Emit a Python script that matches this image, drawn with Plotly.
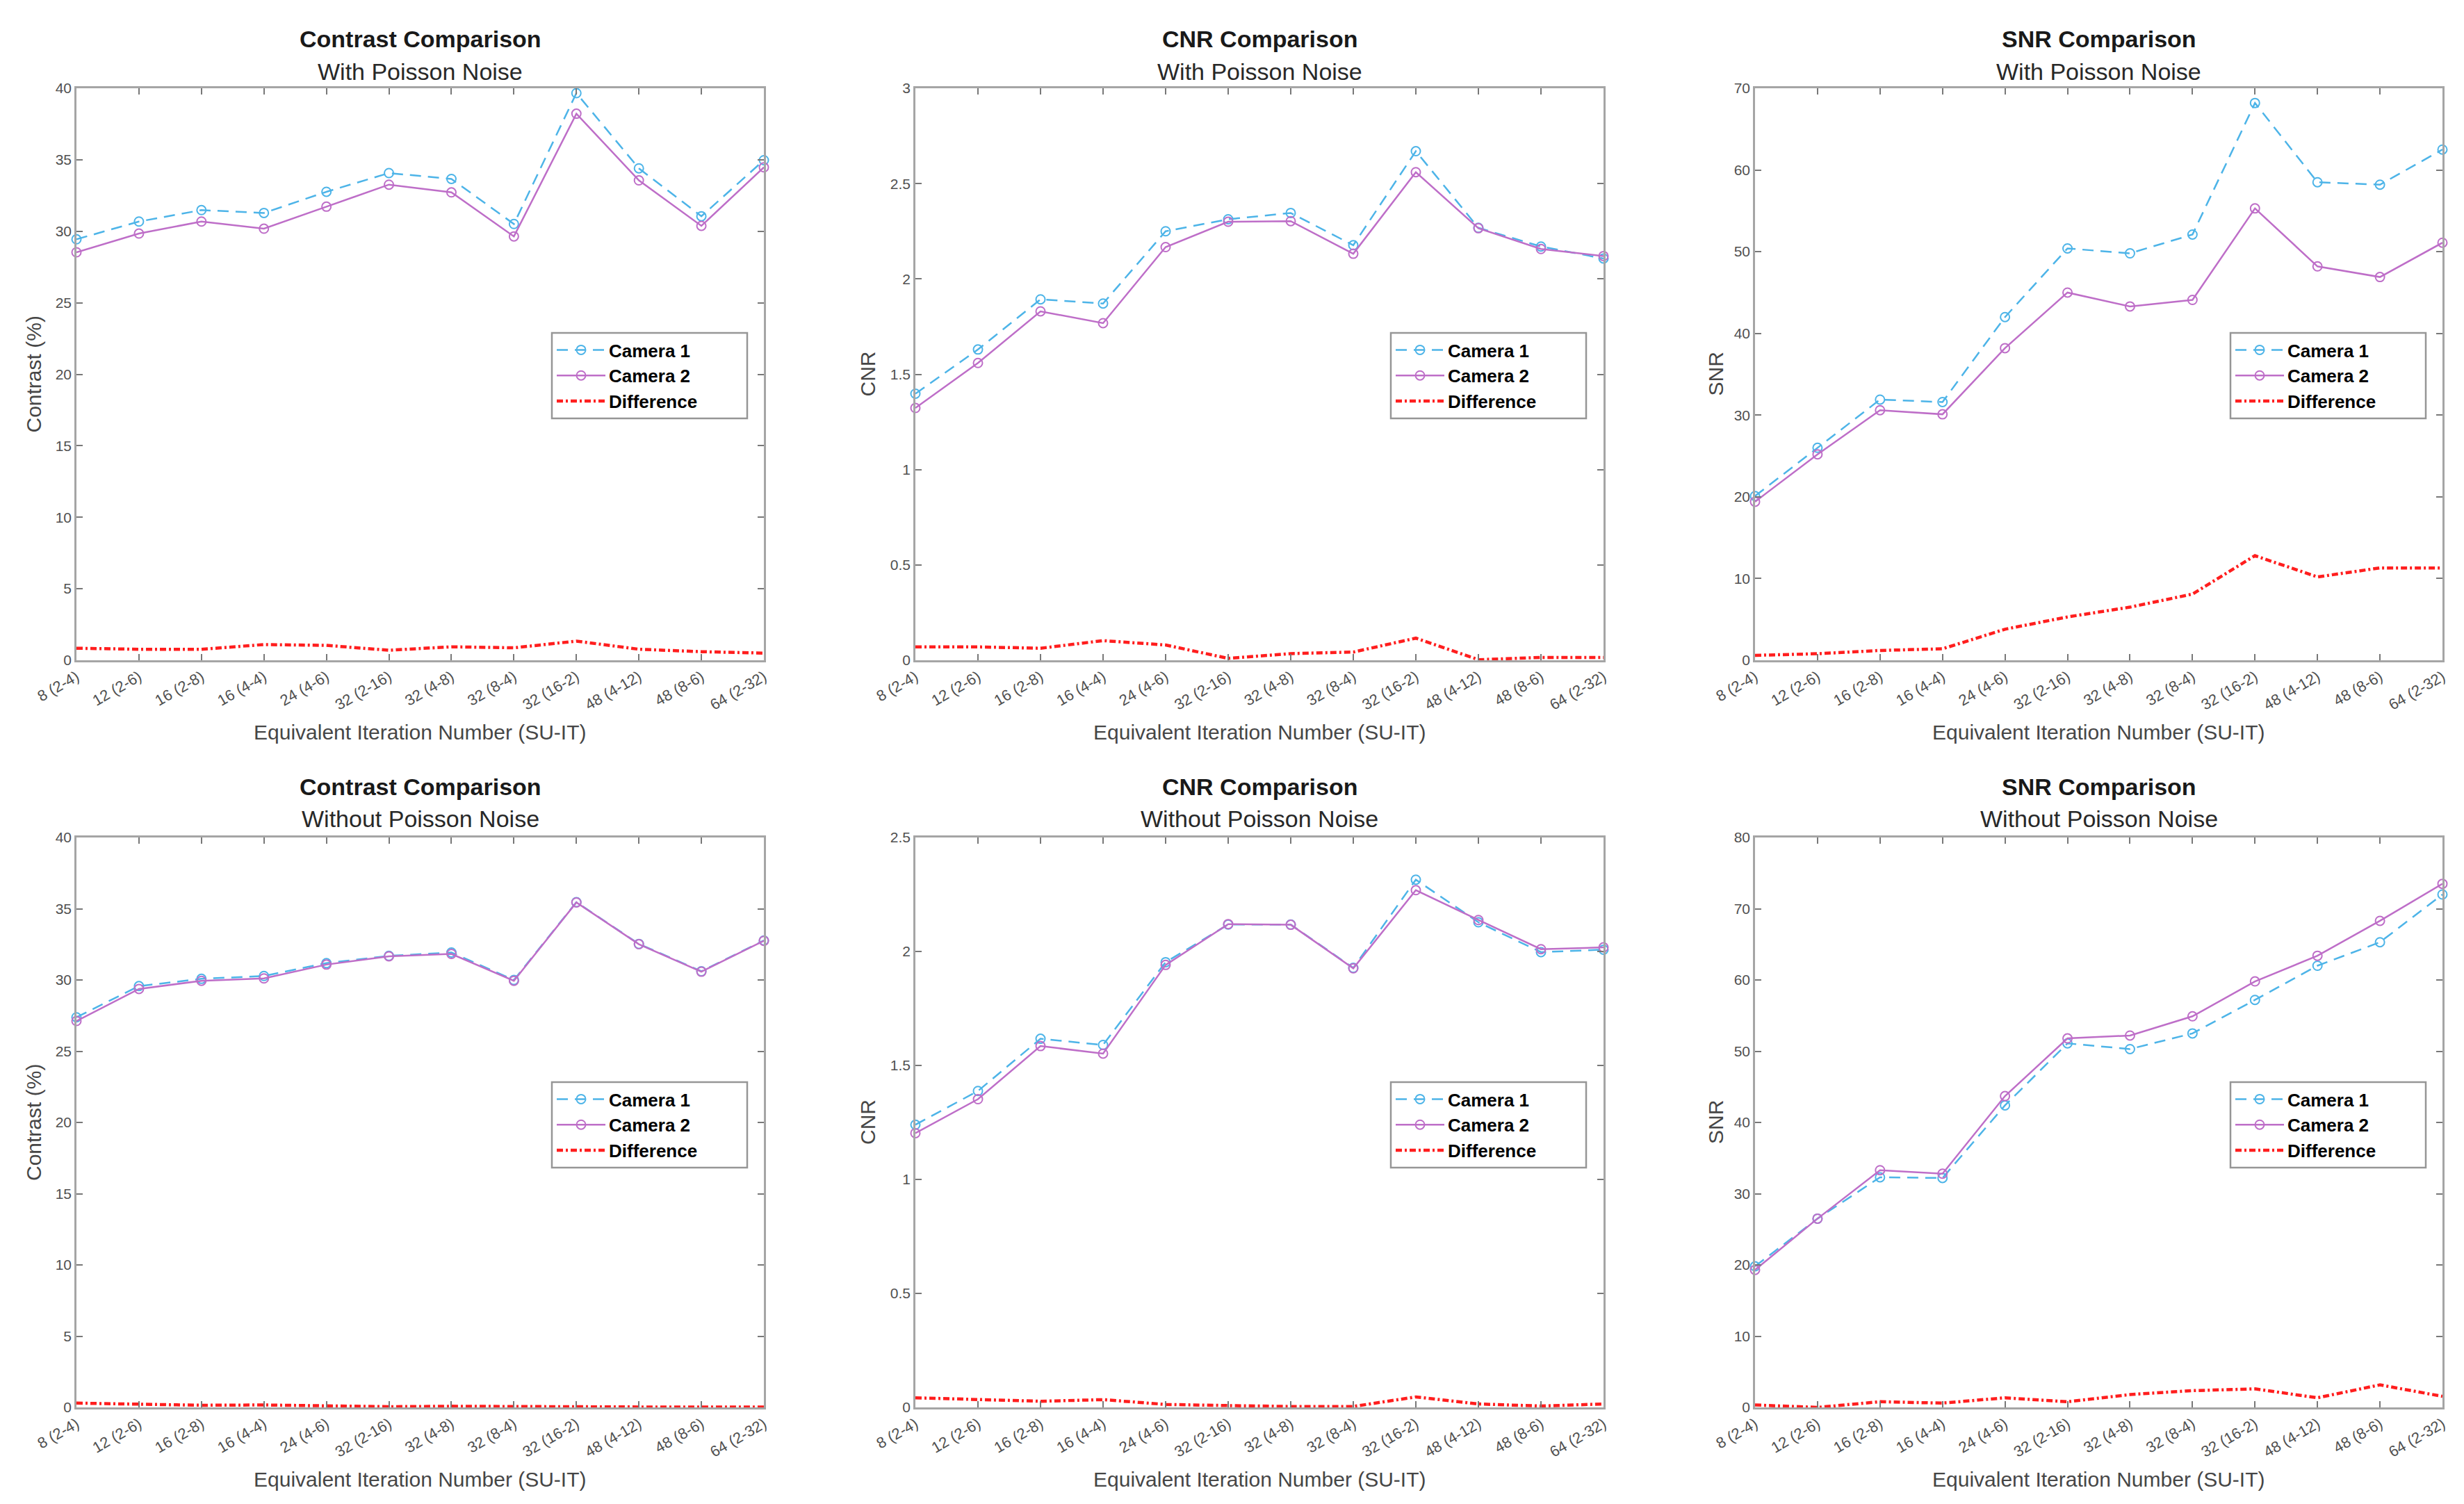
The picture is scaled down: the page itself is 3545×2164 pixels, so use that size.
import plotly.graph_objects as go

categories = ["8 (2-4)", "12 (2-6)", "16 (2-8)", "16 (4-4)", "24 (4-6)", "32 (2-16)",
              "32 (4-8)", "32 (8-4)", "32 (16-2)", "48 (4-12)", "48 (8-6)", "64 (2-32)"]

# Row 1: With Poisson Noise
contrast_p_cam1 = [29.44, 30.68, 31.48, 31.28, 32.76, 34.07, 33.66, 30.51, 39.66, 34.40, 31.05, 34.97]
contrast_p_cam2 = [28.53, 29.84, 30.68, 30.18, 31.72, 33.26, 32.72, 29.64, 38.22, 33.56, 30.38, 34.47]
contrast_p_diff = [0.84, 0.77, 0.77, 1.10, 1.04, 0.70, 0.94, 0.87, 1.34, 0.77, 0.60, 0.50]

cnr_p_cam1 = [1.398, 1.630, 1.893, 1.871, 2.250, 2.313, 2.346, 2.177, 2.670, 2.268, 2.170, 2.107]
cnr_p_cam2 = [1.323, 1.559, 1.830, 1.768, 2.167, 2.300, 2.303, 2.132, 2.560, 2.266, 2.157, 2.120]
cnr_p_diff = [0.070, 0.070, 0.063, 0.103, 0.080, 0.010, 0.035, 0.043, 0.116, 0.003, 0.015, 0.015]

snr_p_cam1 = [20.1, 26.0, 31.9, 31.6, 42.0, 50.4, 49.8, 52.1, 68.2, 58.5, 58.2, 62.5]
snr_p_cam2 = [19.4, 25.2, 30.6, 30.1, 38.2, 45.0, 43.3, 44.1, 55.3, 48.2, 46.9, 51.1]
snr_p_diff = [0.6, 0.8, 1.2, 1.4, 3.8, 5.3, 6.5, 8.1, 12.8, 10.2, 11.3, 11.3]

# Row 2: Without Poisson Noise
contrast_n_cam1 = [27.38, 29.57, 30.08, 30.28, 31.18, 31.69, 31.93, 30.00, 35.46, 32.53, 30.61, 32.77]
contrast_n_cam2 = [27.12, 29.37, 29.94, 30.11, 31.08, 31.66, 31.83, 29.94, 35.44, 32.51, 30.58, 32.75]
contrast_n_diff = [0.30, 0.20, 0.15, 0.17, 0.12, 0.05, 0.08, 0.05, 0.05, 0.03, 0.03, 0.02]

cnr_n_cam1 = [1.240, 1.388, 1.617, 1.590, 1.953, 2.118, 2.118, 1.928, 2.315, 2.128, 1.997, 2.008]
cnr_n_cam2 = [1.203, 1.352, 1.585, 1.552, 1.941, 2.120, 2.117, 1.926, 2.269, 2.138, 2.010, 2.018]
cnr_n_diff = [0.042, 0.036, 0.027, 0.034, 0.013, 0.008, 0.004, 0.004, 0.046, 0.015, 0.006, 0.015]

snr_n_cam1 = [19.8, 26.5, 32.3, 32.2, 42.4, 51.1, 50.3, 52.5, 57.2, 62.0, 65.3, 72.0]
snr_n_cam2 = [19.3, 26.5, 33.3, 32.8, 43.7, 51.8, 52.2, 54.9, 59.8, 63.4, 68.3, 73.5]
snr_n_diff = [0.34, 0.0, 0.8, 0.6, 1.35, 0.8, 1.8, 2.35, 2.6, 1.35, 3.16, 1.55]

titles = ["Contrast Comparison", "CNR Comparison", "SNR Comparison"]
subtitles = ["With Poisson Noise", "Without Poisson Noise"]
y_titles = ["Contrast (%)", "CNR", "SNR"]
x_title = "Equivalent Iteration Number (SU-IT)"
y_ranges = [[0, 40], [0, 3], [0, 70], [0, 40], [0, 2.5], [0, 80]]
y_dticks = [5, 0.5, 10, 5, 0.5, 10]

panels = [
    (contrast_p_cam1, contrast_p_cam2, contrast_p_diff),
    (cnr_p_cam1, cnr_p_cam2, cnr_p_diff),
    (snr_p_cam1, snr_p_cam2, snr_p_diff),
    (contrast_n_cam1, contrast_n_cam2, contrast_n_diff),
    (cnr_n_cam1, cnr_n_cam2, cnr_n_diff),
    (snr_n_cam1, snr_n_cam2, snr_n_diff),
]

W, H = 3545, 2164
col_px = [(102, 1091), (1309, 2299), (2517, 3506)]
row_px = [(119, 942), (1197, 2017)]  # top, bottom in px from top

C1 = "rgb(77,180,232)"
C2 = "rgb(190,110,200)"
CR = "rgb(255,30,30)"
AX = "rgb(165,165,165)"
FONT = "Liberation Sans"

fig = go.Figure()
layout = dict(
    width=W, height=H, margin=dict(l=0, r=0, t=0, b=0, autoexpand=False),
    paper_bgcolor="white", plot_bgcolor="white", showlegend=True,
)
annotations = []
shapes = []

for i, (cam1, cam2, diff) in enumerate(panels):
    r, c = divmod(i, 3)
    n = i + 1
    xa = "x" if n == 1 else f"x{n}"
    ya = "y" if n == 1 else f"y{n}"
    lg = "legend" if n == 1 else f"legend{n}"
    x0, x1 = col_px[c]
    t, b = row_px[r]
    xdom = [x0 / W, x1 / W]
    ydom = [1 - b / H, 1 - t / H]

    fig.add_trace(go.Scatter(
        x=categories, y=cam1, xaxis=xa, yaxis=ya, legend=lg, name="Camera 1",
        mode="lines+markers", cliponaxis=False,
        line=dict(color=C1, width=2.5, dash="16px,10px"),
        marker=dict(symbol="circle-open", size=13, color=C1, line=dict(width=2, color=C1)),
    ))
    fig.add_trace(go.Scatter(
        x=categories, y=cam2, xaxis=xa, yaxis=ya, legend=lg, name="Camera 2",
        mode="lines+markers", cliponaxis=False,
        line=dict(color=C2, width=2.5),
        marker=dict(symbol="circle-open", size=13, color=C2, line=dict(width=2, color=C2)),
    ))
    fig.add_trace(go.Scatter(
        x=categories, y=diff, xaxis=xa, yaxis=ya, legend=lg, name="Difference",
        mode="lines", cliponaxis=False,
        line=dict(color=CR, width=4.5, dash="9px,4px,3px,4px"),
    ))

    axis_common = dict(
        showline=True, linecolor=AX, linewidth=2.5, mirror="ticks",
        ticks="inside", ticklen=9, tickwidth=2, tickcolor="rgb(120,120,120)",
        showgrid=False, zeroline=False, automargin=False,
        tickfont=dict(family=FONT, size=21, color="rgb(80,80,80)"),
    )
    layout["xaxis" if n == 1 else f"xaxis{n}"] = dict(
        axis_common, domain=xdom, anchor=ya, type="category",
        range=[0, len(categories) - 1], tickangle=-30,
        tickfont=dict(family=FONT, size=22, color="rgb(80,80,80)"),
    )
    layout["yaxis" if n == 1 else f"yaxis{n}"] = dict(
        axis_common, domain=ydom, anchor=xa, range=y_ranges[i], dtick=y_dticks[i],
        tick0=0,
    )

    # legend frame (MATLAB-style wide box)
    bx0, bx1 = x0 + 684, x0 + 965
    by0, by1 = t + 352, t + 475
    shapes.append(dict(type="rect", xref="paper", yref="paper", layer="above",
                       x0=bx0 / W, x1=bx1 / W, y0=1 - by1 / H, y1=1 - by0 / H,
                       fillcolor="white", line=dict(color="rgb(150,150,150)", width=2.5)))
    layout[lg] = dict(
        x=(bx0 + 2) / W, y=1 - (by0 + 1) / H, xanchor="left", yanchor="top",
        bgcolor="rgba(0,0,0,0)", borderwidth=0,
        font=dict(family=FONT, size=26, color="black", weight="bold"),
        tracegroupgap=0, itemwidth=70,
    )

    cx = (x0 + x1) / 2 / W
    if r == 0:
        ty, sy, xy = 48, 95, 1045
    else:
        ty, sy, xy = 1124, 1170, 2120
    annotations.append(dict(text="<b>" + titles[c] + "</b>", x=cx, y=1 - ty / H,
                            xref="paper", yref="paper", showarrow=False,
                            xanchor="center", yanchor="middle",
                            font=dict(family=FONT, size=34, color="rgb(25,25,25)")))
    annotations.append(dict(text=subtitles[r], x=cx, y=1 - sy / H,
                            xref="paper", yref="paper", showarrow=False,
                            xanchor="center", yanchor="middle",
                            font=dict(family=FONT, size=34, color="rgb(40,40,40)")))
    annotations.append(dict(text=x_title, x=cx, y=1 - xy / H,
                            xref="paper", yref="paper", showarrow=False,
                            xanchor="center", yanchor="middle",
                            font=dict(family=FONT, size=30, color="rgb(70,70,70)")))
    yt_x = [40, 1240, 2460][c]
    annotations.append(dict(text=y_titles[c], x=yt_x / W, y=1 - (t + b) / 2 / H,
                            xref="paper", yref="paper", showarrow=False, textangle=-90,
                            xanchor="center", yanchor="middle",
                            font=dict(family=FONT, size=30, color="rgb(70,70,70)")))

layout["annotations"] = annotations
layout["shapes"] = shapes
fig.update_layout(**layout)
fig.write_html("out.html")
